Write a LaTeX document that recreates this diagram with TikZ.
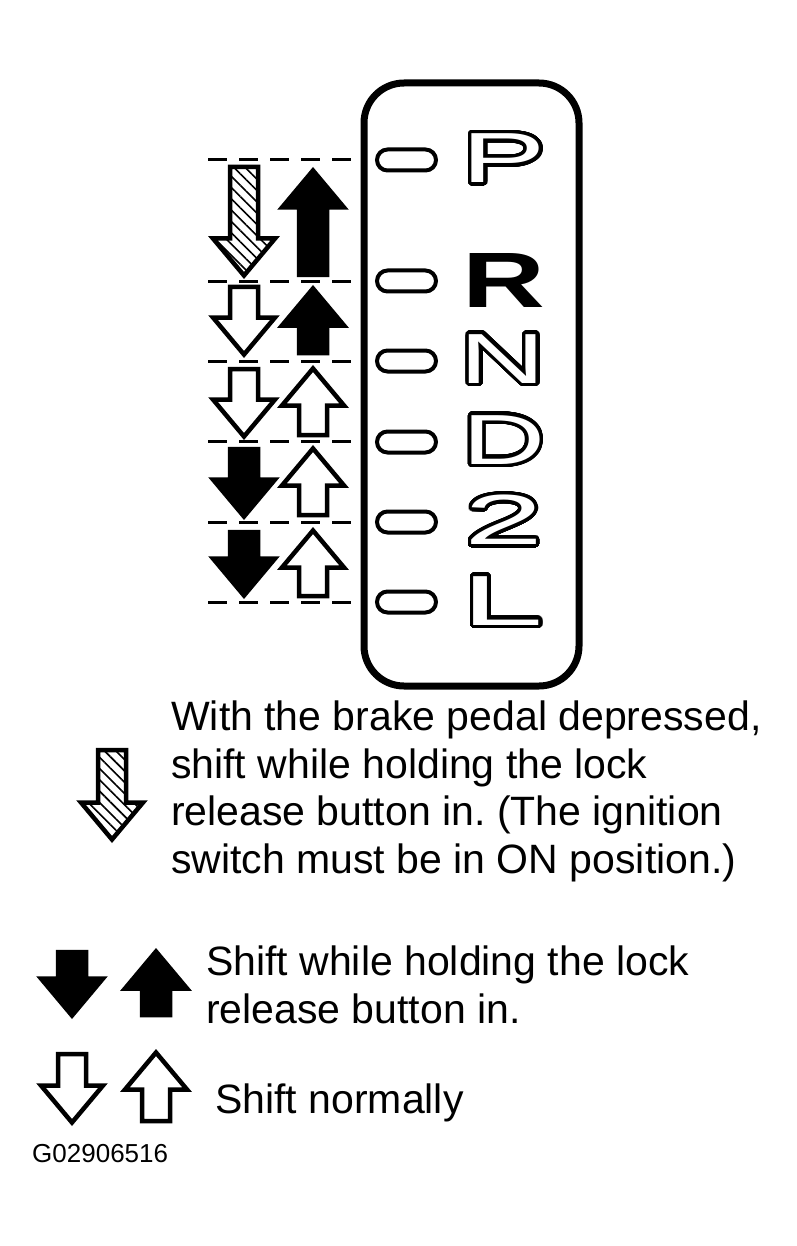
\documentclass[tikz,border=0pt]{standalone}
\usepackage{fontspec}
\setmainfont{Liberation Sans}
\usepackage{contour}
\contourlength{3.5pt}
\contournumber{48}
\usetikzlibrary{positioning,patterns.meta}

% arrow sizes
\newcommand{\arrshaft}{14}
\newcommand{\arrhead}{31}
\newcommand{\arrlen}{37}
\newcommand{\arrdown}[4]{\draw[#1] (#2-\arrshaft,#3) -- (#2+\arrshaft,#3) -- (#2+\arrshaft,#4-\arrlen) -- (#2+\arrhead,#4-\arrlen) -- (#2,#4) -- (#2-\arrhead,#4-\arrlen) -- (#2-\arrshaft,#4-\arrlen) -- cycle;}
\newcommand{\arrup}[4]{\draw[#1] (#2-\arrshaft,#3) -- (#2+\arrshaft,#3) -- (#2+\arrshaft,#4+\arrlen) -- (#2+\arrhead,#4+\arrlen) -- (#2,#4) -- (#2-\arrhead,#4+\arrlen) -- (#2-\arrshaft,#4+\arrlen) -- cycle;}
% outlined plate letter
\newcommand{\plate}[2]{\contour{black}{\scalebox{#1}[1]{#2}}}

\frenchspacing
\begin{document}
\begin{tikzpicture}[x=1pt,y=-1pt,
	panel/.style={draw=black,line width=7pt,rounded corners=40pt,minimum width=215pt,minimum height=603pt,inner sep=0pt},
	slot/.style={draw=black,line width=4pt,rounded corners=10.5pt,minimum width=59pt,minimum height=21pt,inner sep=0pt},
	gear/.style={text=white,inner sep=0pt,font=\fontsize{71}{72}\selectfont},
	guide/.style={line width=3pt,dash pattern=on 19pt off 12pt},
	whitearrow/.style={draw=black,fill=white,line width=4.5pt},
	blackarrow/.style={draw=black,fill=black,line width=4.5pt},
	hatcharrow/.style={draw=black,line width=4.5pt,pattern={Lines[angle=-45,distance=8pt,line width=1.6pt]}},
	note/.style={anchor=north west,align=left,inner sep=0pt,font=\fontsize{41}{47.7}\selectfont}]
	\fill[white] (0,0) rectangle (796,1246);
	\useasboundingbox (0,0) rectangle (796,1246);

	% selector plate
	\node[panel] (plate) at (471.5,384.5) {};
	\node[slot] (slotP) at (406.5,160) {};
	\node[slot] (slotR) at (406.5,281) {};
	\node[slot] (slotN) at (406.5,361) {};
	\node[slot] (slotD) at (406.5,442) {};
	\node[slot] (slot2) at (406.5,522) {};
	\node[slot] (slotL) at (406.5,602) {};
	\node[gear] (P) at (504,160) {\plate{1.78}{P}};
	\node[gear,text=black,font=\fontsize{78.5}{80}\selectfont\bfseries\addfontfeature{FakeStretch=1.46}] (R) at (504,280) {R};
	\node[gear] (N) at (503,360.5) {\plate{1.68}{N}};
	\node[gear] (D) at (504,441.5) {\plate{1.62}{D}};
	\node[gear] (2) at (504,521.5) {\plate{2.0}{2}};
	\node[gear] (L) at (503,602.5) {\plate{2.08}{L}};

	% position lines
	\foreach \y in {160,282,361,441,522,602}
		\draw[guide] (208,\y) -- (352,\y);

	% shift arrows
	\arrdown{hatcharrow}{244}{167}{275.5}
	\arrup{blackarrow}{313}{275}{170.5}
	\arrdown{whitearrow}{244}{287}{354.5}
	\arrup{blackarrow}{313}{353}{288.5}
	\arrdown{whitearrow}{244}{369}{436.5}
	\arrup{whitearrow}{313}{435}{368.5}
	\arrdown{blackarrow}{244}{449}{516.5}
	\arrup{whitearrow}{313}{515}{448.5}
	\arrdown{blackarrow}{244}{532}{595.5}
	\arrup{whitearrow}{313}{596}{530.5}

	% legend
	\arrdown{hatcharrow}{112}{750}{839.5}
	\node[note] (brake) at (171,700.5) {With the brake pedal depressed,\\shift while holding the lock\\release button in. (The ignition\\switch must be in ON position.)};
	\arrdown{blackarrow}{72}{952}{1015.5}
	\arrup{blackarrow}{156}{1015}{951.5}
	\node[note] (lock) at (206,945.5) {Shift while holding the lock\\release button in.};
	\arrdown{whitearrow}{72}{1054}{1122.5}
	\arrup{whitearrow}{156}{1121}{1052.5}
	\node[note] (normal) at (215,1083.5) {Shift normally};
	\node[anchor=north west,inner sep=0pt,font=\fontsize{26}{30}\selectfont] (code) at (32,1144) {G02906516};
\end{tikzpicture}
\end{document}
